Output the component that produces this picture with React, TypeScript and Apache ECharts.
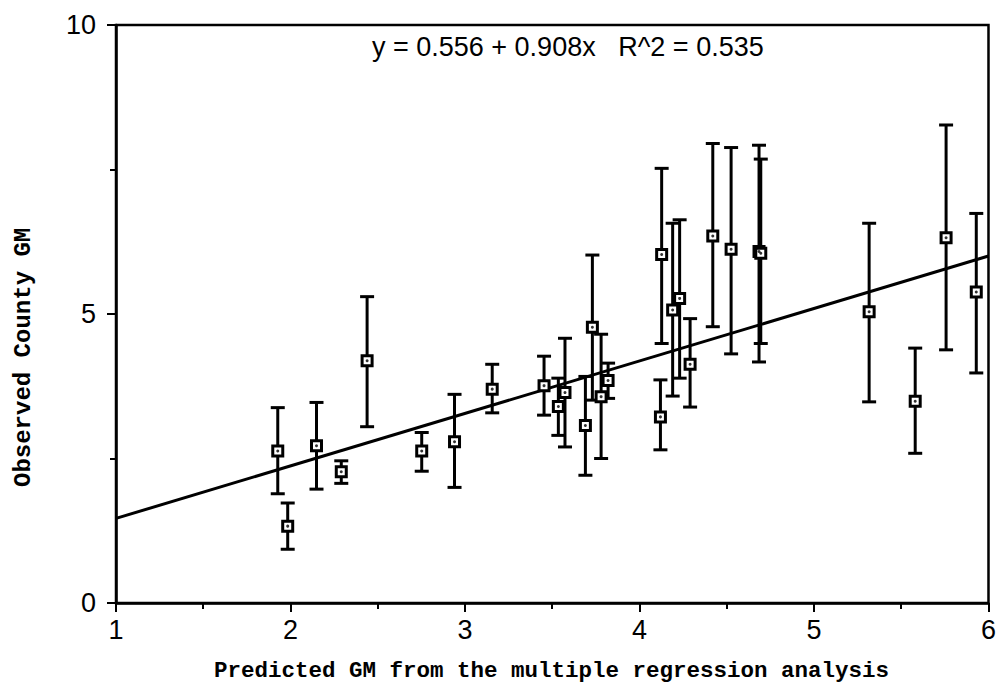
import React, { useEffect, useRef } from "react";
import * as echarts from "echarts";

// Predicted GM (x), observed GM (y), error bar upper/lower limits
const predicted = [1.927, 1.984, 2.149, 2.291, 2.439, 2.752, 2.94, 3.156, 3.453, 3.535, 3.573, 3.69, 3.73, 3.78, 3.82, 4.12, 4.127, 4.19, 4.23, 4.29, 4.42, 4.525, 4.685, 4.695, 5.316, 5.58, 5.757, 5.93];
const observed = [2.63, 1.33, 2.72, 2.27, 4.19, 2.63, 2.79, 3.7, 3.76, 3.4, 3.64, 3.07, 4.77, 3.57, 3.85, 3.22, 6.03, 5.07, 5.27, 4.13, 6.35, 6.12, 6.08, 6.05, 5.04, 3.49, 6.32, 5.38];
const upper = [3.38, 1.73, 3.47, 2.46, 5.3, 2.95, 3.61, 4.13, 4.27, 3.89, 4.58, 3.92, 6.02, 4.65, 4.15, 3.86, 7.52, 6.57, 6.63, 4.92, 7.95, 7.88, 7.92, 7.68, 6.57, 4.41, 8.27, 6.74];
const lower = [1.89, 0.93, 1.97, 2.07, 3.05, 2.28, 2.0, 3.29, 3.25, 2.9, 2.7, 2.21, 3.51, 2.5, 3.54, 2.65, 4.49, 3.58, 3.89, 3.39, 4.78, 4.31, 4.17, 4.49, 3.48, 2.59, 4.38, 3.98];

const intercept = 0.556;
const slope = 0.908;
const xRange = [1, 6];
const yRange = [0, 10];
const equationText = "y = 0.556 + 0.908x   R^2 = 0.535";
const xTitle = "Predicted GM from the multiple regression analysis";
const yTitle = "Observed County GM";

export default function App() {
  const ref = useRef<HTMLDivElement>(null);
  useEffect(() => {
    if (!ref.current) return;
    const chart = echarts.init(ref.current, null, { renderer: "svg" });
    const pts = predicted.map((x, i) => [x, observed[i]]);
    const bars = predicted.map((x, i) => [x, lower[i], upper[i]]);
    const fit = xRange.map((x) => [x, intercept + slope * x]);
    chart.setOption({
      animation: false,
      backgroundColor: "#ffffff",
      grid: { left: 116, right: -4, top: 25, bottom: 89, show: true, borderColor: "#000", borderWidth: 2.5 },
      xAxis: {
        type: "value",
        min: xRange[0],
        max: xRange[1],
        interval: 1,
        axisLine: { lineStyle: { color: "#000", width: 2.5 } },
        axisTick: { inside: false, length: 9, lineStyle: { color: "#000", width: 2 } },
        minorTick: { show: true, splitNumber: 2, length: 6, lineStyle: { color: "#000", width: 2 } },
        splitLine: { show: false },
        axisLabel: { color: "#000", fontSize: 27, fontFamily: "Liberation Sans", margin: 13 },
      },
      yAxis: {
        type: "value",
        min: yRange[0],
        max: yRange[1],
        interval: 5,
        axisLine: { lineStyle: { color: "#000", width: 2.5 } },
        axisTick: { inside: false, length: 9, lineStyle: { color: "#000", width: 2 } },
        minorTick: { show: true, splitNumber: 2, length: 6, lineStyle: { color: "#000", width: 2 } },
        splitLine: { show: false },
        axisLabel: { color: "#000", fontSize: 27, fontFamily: "Liberation Sans", margin: 20 },
      },
      graphic: [
        {
          type: "text",
          left: 372,
          top: 33,
          style: { text: equationText, fontSize: 27, fontFamily: "Liberation Sans", fill: "#000" },
        },
        {
          type: "text",
          left: 214,
          top: 659,
          style: { text: xTitle, fontSize: 22.5, fontWeight: "bold", fontFamily: "Liberation Mono", fill: "#000" },
        },
        {
          type: "text",
          x: 11,
          y: 487,
          rotation: Math.PI / 2,
          style: { text: yTitle, fontSize: 24, fontWeight: "bold", fontFamily: "Liberation Mono", fill: "#000" },
        },
      ],
      series: [
        {
          type: "line",
          data: fit,
          symbol: "none",
          lineStyle: { color: "#000", width: 3 },
          z: 2,
        },
        {
          type: "custom",
          data: bars,
          z: 3,
          renderItem: (params: any, api: any) => {
            const x = api.value(0);
            const lo = api.coord([x, api.value(1)]);
            const hi = api.coord([x, api.value(2)]);
            const cap = 7;
            const st = { stroke: "#000", lineWidth: 3 };
            return {
              type: "group",
              children: [
                { type: "line", shape: { x1: lo[0], y1: lo[1], x2: hi[0], y2: hi[1] }, style: st },
                { type: "line", shape: { x1: lo[0] - cap, y1: lo[1], x2: lo[0] + cap, y2: lo[1] }, style: st },
                { type: "line", shape: { x1: hi[0] - cap, y1: hi[1], x2: hi[0] + cap, y2: hi[1] }, style: st },
              ],
            };
          },
        },
        {
          type: "scatter",
          data: pts,
          symbol: "rect",
          symbolSize: 10,
          itemStyle: { color: "#fff", borderColor: "#000", borderWidth: 3, opacity: 1 },
          z: 4,
        },
        {
          type: "scatter",
          data: pts,
          symbol: "circle",
          symbolSize: 3,
          itemStyle: { color: "#000" },
          z: 5,
        },
      ],
    });
    return () => chart.dispose();
  }, []);
  return <div ref={ref} style={{ position: "absolute", left: 0, top: 0, width: 999, height: 692 }} />;
}
